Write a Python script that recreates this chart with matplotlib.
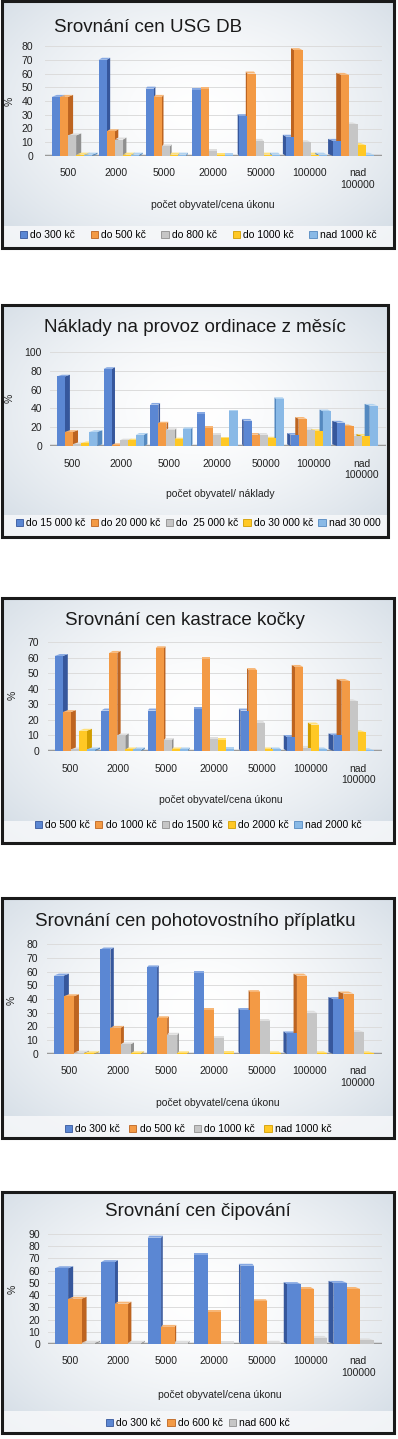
import numpy as np
import matplotlib
matplotlib.use('Agg')
import matplotlib.pyplot as plt
import matplotlib.colors as mcolors
from matplotlib.patches import Polygon, Rectangle, Patch

plt.rcParams['font.family'] = ['Liberation Sans', 'DejaVu Sans']

W, H = 398, 1439

categories = ["500", "2000", "5000", "20000", "50000", "100000", "nad\n100000"]

# Srovnání cen USG DB
usg_labels = ["do 300 kč", "do 500 kč", "do 800 kč", "do 1000 kč", "nad 1000 kč"]
usg_300 = [43, 70, 49, 48, 29, 14, 11]
usg_500 = [43, 18, 43, 49, 60, 77, 59]
usg_800 = [15, 12, 7, 4, 11, 10, 23]
usg_1000 = [1, 1, 1, 1, 1, 1, 8]
usg_nad = [1, 1, 1, 1, 1, 1, 1]

# Náklady na provoz ordinace z měsíc
naklady_labels = ["do 15 000 kč", "do 20 000 kč", "do  25 000 kč", "do 30 000 kč", "nad 30 000"]
naklady_15 = [74, 82, 44, 34, 27, 12, 25]
naklady_20 = [15, 1, 24, 19, 12, 29, 21]
naklady_25 = [2, 6, 17, 12, 12, 17, 11]
naklady_30 = [3, 6, 7, 8, 8, 16, 11]
naklady_nad = [15, 12, 18, 37, 50, 37, 43]

# Srovnání cen kastrace kočky
kastrace_labels = ["do 500 kč", "do 1000 kč", "do 1500 kč", "do 2000 kč", "nad 2000 kč"]
kastrace_500 = [61, 26, 26, 27, 26, 9, 10]
kastrace_1000 = [25, 63, 66, 59, 52, 54, 45]
kastrace_1500 = [1, 10, 7, 8, 18, 2, 32]
kastrace_2000 = [13, 1, 1, 7, 1, 17, 12]
kastrace_nad = [1, 1, 1, 1, 1, 1, 0.5]

# Srovnání cen pohotovostního příplatku
pohot_labels = ["do 300 kč", "do 500 kč", "do 1000 kč", "nad 1000 kč"]
pohot_300 = [57, 76, 63, 59, 32, 15, 40]
pohot_500 = [42, 19, 26, 32, 45, 57, 44]
pohot_1000 = [1, 7, 14, 12, 24, 30, 16]
pohot_nad = [0.5, 0.5, 0.5, 0.5, 0.5, 0.5, 0.5]

# Srovnání cen čipování
cip_labels = ["do 300 kč", "do 600 kč", "nad 600 kč"]
cip_300 = [62, 67, 87, 73, 64, 49, 50]
cip_600 = [37, 33, 14, 26, 35, 45, 45]
cip_nad = [1, 1, 1, 1, 1, 5, 3]

# front, side, top
COLORS = {
    'blue': ('#5b87d3', '#36579c', '#86a8e2'),
    'orange': ('#f39a45', '#bd6420', '#f7b676'),
    'gray': ('#c6c6c6', '#8f8f8f', '#dedede'),
    'yellow': ('#ffc825', '#d19d00', '#ffe07a'),
    'lightblue': ('#89b9e6', '#5489c0', '#b0d2f0'),
}
FIVE = ['blue', 'orange', 'gray', 'yellow', 'lightblue']


def px_box(x0, y0, x1, y1):
    return [x0 / W, 1 - y1 / H, (x1 - x0) / W, (y1 - y0) / H]


def draw_background(fig, frame, band_h=22):
    ax = fig.add_axes(px_box(*frame), zorder=0)
    yy, xx = np.mgrid[0:1:200j, 0:1:200j]
    r = np.sqrt(((xx - 0.5) / 0.7) ** 2 + ((yy - 0.55) / 0.75) ** 2)
    t = np.clip(r, 0, 1) ** 1.6
    c0 = np.array(mcolors.to_rgb('#ffffff'))
    c1 = np.array(mcolors.to_rgb('#d3dce5'))
    img = c0 + (c1 - c0) * t[..., None]
    ax.imshow(img, extent=[0, 1, 0, 1], aspect='auto', origin='lower')
    frame_h = frame[3] - frame[1]
    ax.add_patch(Rectangle((0, 0), 1, band_h / frame_h, color='#f7f8fa', alpha=0.85, lw=0))
    ax.add_patch(Rectangle((0, 0), 1, 1, fill=False, ec='#1a1a1a', lw=2.2,
                           transform=ax.transAxes, clip_on=False))
    ax.set_xlim(0, 1)
    ax.set_ylim(0, 1)
    ax.axis('off')


def draw_bars(ax, series, keys, ymax):
    n = len(series)
    width = 0.84 / n
    dy = ymax * 0.018
    for j, (vals, key) in enumerate(zip(series, keys)):
        front, side, top = COLORS[key]
        xs = []
        for i, v in enumerate(vals):
            xc = 3 + (i - 3) * 0.97 + (j - (n - 1) / 2) * width
            xs.append(xc)
            dx = 0.035 * (3 - i)
            left, right = xc - width / 2, xc + width / 2
            edge = right if dx > 0 else left
            if dx != 0:
                ax.add_patch(Polygon([(edge, 0), (edge + dx, dy), (edge + dx, v + dy), (edge, v)],
                                     closed=True, fc=side, ec='none', zorder=2, clip_on=False))
            ax.add_patch(Polygon([(left, v), (right, v), (right + dx, v + dy), (left + dx, v + dy)],
                                 closed=True, fc=top, ec='none', zorder=2, clip_on=False))
        ax.bar(xs, vals, width, color=front, zorder=3, linewidth=0, clip_on=False)


def draw_panel(fig, frame, plot, title, title_xy, ymax, ystep, ypad, xlabel, xlabel_xy,
               legend_y, colsp, ylabel_xy, series, labels, keys):
    draw_background(fig, frame)
    left, top, right, base = plot
    ax = fig.add_axes(px_box(left, top, right, base), zorder=1)
    ax.set_facecolor('none')
    ax.set_xlim(-0.47, 6.5)
    ax.set_ylim(0, ymax)
    for s in ax.spines.values():
        s.set_visible(False)
    ax.set_yticks(np.arange(0, ymax + 1, ystep))
    ax.tick_params(axis='y', length=0, pad=ypad, labelsize=7.5, labelcolor='#222222')
    ax.set_xticks(range(len(categories)))
    ax.set_xticklabels(categories, multialignment='center')
    ax.tick_params(axis='x', length=0, pad=9, labelsize=7.5, labelcolor='#222222')
    ax.grid(axis='y', color='#dcdcdc', lw=0.7, zorder=0)
    ax.axhline(0, color='#9a9a9a', lw=2.5, zorder=1)
    draw_bars(ax, series, keys, ymax)

    fig.text(title_xy[0] / W, 1 - title_xy[1] / H, title, ha='center', va='center',
             fontsize=13.5, color='#1a1a1a')
    fig.text(xlabel_xy[0] / W, 1 - xlabel_xy[1] / H, xlabel, ha='center', va='center',
             fontsize=7.5, color='#222222')
    fig.text(ylabel_xy[0] / W, 1 - ylabel_xy[1] / H, '%', ha='center', va='center',
             rotation=90, fontsize=7.5, color='#222222')
    handles = [Patch(facecolor=COLORS[k][0], edgecolor=COLORS[k][1], lw=0.6) for k in keys]
    fig.legend(handles, labels, loc='center', bbox_to_anchor=(198 / W, 1 - legend_y / H),
               ncol=len(labels), frameon=False, fontsize=7.5, handlelength=0.7,
               handleheight=0.7, handletextpad=0.3, columnspacing=colsp)


fig = plt.figure(figsize=(W / 100, H / 100), dpi=100)
fig.patch.set_facecolor('white')

draw_panel(fig, (2, 1, 394, 248), (45, 46, 382, 156), "Srovnání cen USG DB", (148, 27),
           80, 10, 8.6, "počet obyvatel/cena úkonu", (213, 205), 235, 1.5, (10, 101),
           [usg_300, usg_500, usg_800, usg_1000, usg_nad], usg_labels, FIVE)

draw_panel(fig, (2, 305, 388, 537), (50, 352, 386, 446), "Náklady na provoz ordinace z měsíc",
           (195, 328), 100, 20, 5.8, "počet obyvatel/ náklady", (220, 494), 523, 0.5, (10, 398),
           [naklady_15, naklady_20, naklady_25, naklady_30, naklady_nad], naklady_labels, FIVE)

draw_panel(fig, (2, 598, 394, 843), (48, 642, 382, 751), "Srovnání cen kastrace kočky",
           (185, 620), 70, 10, 6.5, "počet obyvatel/cena úkonu", (221, 800), 825, 0.5, (13, 695),
           [kastrace_500, kastrace_1000, kastrace_1500, kastrace_2000, kastrace_nad],
           kastrace_labels, FIVE)

draw_panel(fig, (2, 898, 394, 1138), (47, 944, 382, 1054), "Srovnání cen pohotovostního příplatku",
           (195, 922), 80, 10, 6.5, "počet obyvatel/cena úkonu", (218, 1103), 1129, 0.9, (12, 1000),
           [pohot_300, pohot_500, pohot_1000, pohot_nad], pohot_labels, FIVE[:4])

draw_panel(fig, (2, 1192, 394, 1433), (48, 1234, 382, 1344), "Srovnání cen čipování",
           (198, 1212), 90, 10, 5.8, "počet obyvatel/cena úkonu", (220, 1395), 1423, 0.6, (13, 1289),
           [cip_300, cip_600, cip_nad], cip_labels, FIVE[:3])

fig.savefig('out.png', dpi=100)
